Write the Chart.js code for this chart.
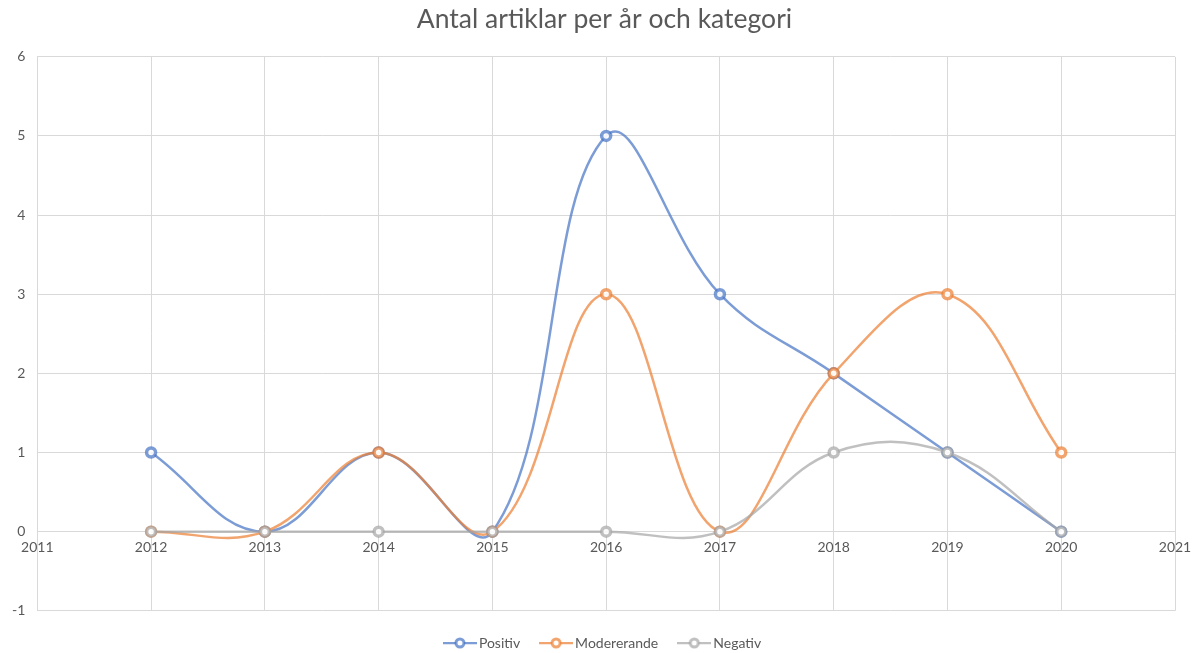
<!DOCTYPE html>
<html>
<head>
<meta charset="utf-8">
<script src="https://cdn.jsdelivr.net/npm/chart.js@4/dist/chart.umd.min.js"></script>
<style>
  html, body { margin: 0; padding: 0; background: #fff; }
  #wrap { width: 1195px; height: 653px; }
</style>
</head>
<body>
<div id="wrap"><canvas id="grafik"></canvas></div>
<script>
const ar = [2012, 2013, 2014, 2015, 2016, 2017, 2018, 2019, 2020];
const positiv = [1, 0, 1, 0, 5, 3, 2, 1, 0];
const modererande = [0, 0, 1, 0, 3, 0, 2, 3, 1];
const negativ = [0, 0, 0, 0, 0, 0, 1, 1, 0];
const xTicks = [2011, 2012, 2013, 2014, 2015, 2016, 2017, 2018, 2019, 2020, 2021];
const yTicks = [-1, 0, 1, 2, 3, 4, 5, 6];

const FONT = "Lato, 'Open Sans', sans-serif";
const TEXT = "#595959";
const GRID = "#d9d9d9";

function punkter(varden) {
  return ar.map((a, i) => ({ x: a, y: varden[i] }));
}

// liten bild till förklaringen: linje med ring i mitten
function legendBild(farg) {
  const c = document.createElement("canvas");
  c.width = 34;
  c.height = 14;
  const ctx = c.getContext("2d");
  ctx.strokeStyle = farg;
  ctx.lineWidth = 2.25;
  ctx.beginPath();
  ctx.moveTo(0, 7);
  ctx.lineTo(34, 7);
  ctx.stroke();
  ctx.beginPath();
  ctx.arc(17, 7, 4, 0, Math.PI * 2);
  ctx.fillStyle = "#fff";
  ctx.fill();
  ctx.lineWidth = 3;
  ctx.stroke();
  return c;
}

function serie(namn, varden, farg, ordning) {
  return {
    label: namn,
    data: punkter(varden),
    borderColor: farg,
    backgroundColor: "#fff",
    borderWidth: 2.5,
    pointRadius: 4.5,
    pointBorderWidth: 3.5,
    pointBackgroundColor: "rgba(255,255,255,0.9)",
    pointBorderColor: farg,
    showLine: true,
    tension: 0.4,
    order: ordning,
  };
}

const dataset = [
  serie("Positiv", positiv, "rgba(68,114,196,0.7)", 3),
  serie("Modererande", modererande, "rgba(237,125,49,0.7)", 2),
  serie("Negativ", negativ, "rgba(165,165,165,0.7)", 1),
];

new Chart(document.getElementById("grafik"), {
  type: "scatter",
  data: { datasets: dataset },
  options: {
    responsive: true,
    maintainAspectRatio: false,
    animation: false,
    layout: { padding: { left: 0, right: -14, top: 0, bottom: -7 } },
    plugins: {
      title: {
        display: true,
        text: "Antal artiklar per år och kategori",
        color: TEXT,
        font: { family: FONT, size: 26.5, weight: "normal" },
        padding: { top: 4, bottom: 21 },
      },
      legend: {
        position: "bottom",
        title: { display: true, text: "", font: { size: 1 }, padding: 0 },
        labels: {
          usePointStyle: true,
          pointStyleWidth: 24,
          color: TEXT,
          font: { family: FONT, size: 14 },
          padding: 24,
          generateLabels: (chart) =>
            chart.data.datasets.map((d, i) => ({
              text: d.label,
              pointStyle: legendBild(d.borderColor),
              fillStyle: d.borderColor,
              strokeStyle: d.borderColor,
              lineWidth: 0,
              fontColor: TEXT,
              hidden: !chart.isDatasetVisible(i),
              datasetIndex: i,
            })),
        },
      },
      tooltip: { enabled: false },
    },
    scales: {
      x: {
        type: "linear",
        position: { y: 0 },
        min: xTicks[0],
        max: xTicks[xTicks.length - 1],
        afterBuildTicks: (axis) => { axis.ticks = xTicks.map((v) => ({ value: v })); },
        afterFit: (axis) => { axis.paddingRight = 20; },
        ticks: {
          color: TEXT,
          font: { family: FONT, size: 14 },
          padding: 7,
          callback: (v) => String(v),
        },
        grid: { color: GRID, drawTicks: false },
        border: { color: GRID },
      },
      y: {
        min: yTicks[0],
        max: yTicks[yTicks.length - 1],
        afterBuildTicks: (axis) => { axis.ticks = yTicks.map((v) => ({ value: v })); },
        ticks: {
          color: TEXT,
          font: { family: FONT, size: 14 },
          padding: 12,
        },
        grid: { color: GRID, drawTicks: false },
        border: { color: GRID },
      },
    },
  },
});
</script>
</body>
</html>
